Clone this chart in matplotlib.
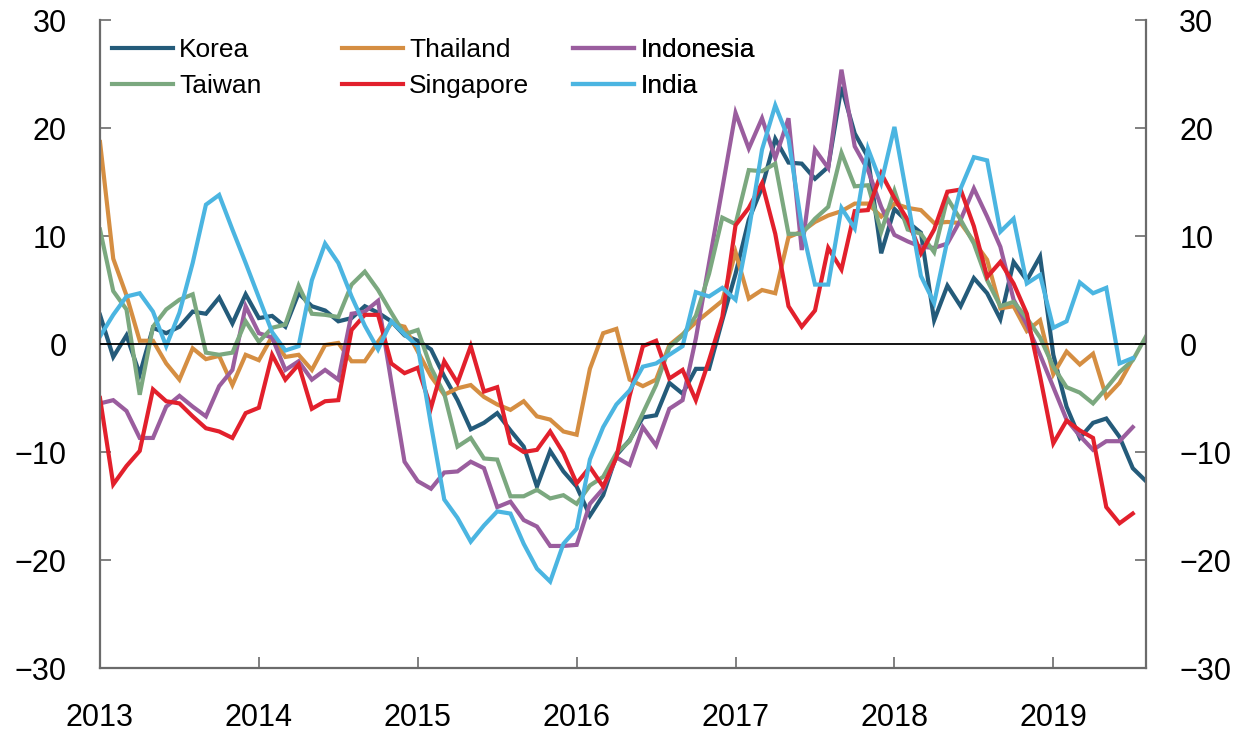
import matplotlib
matplotlib.use("Agg")
import matplotlib.pyplot as plt
import numpy as np

plt.rcParams['font.family'] = ['Liberation Sans', 'DejaVu Sans']

# Monthly data, Jan 2013 onwards
korea = [2.7, -1.2, 0.8, -2.8, 1.5, 1.0, 1.6, 3.0, 2.8, 4.3, 1.9, 4.6,
         2.4, 2.6, 1.6, 4.7, 3.5, 3.1, 2.1, 2.4, 3.5, 2.9, 2.1, 0.8,
         0.3, -0.5, -3.0, -5.2, -7.9, -7.3, -6.4, -8.0, -9.5, -13.2, -9.9, -11.8,
         -13.2, -15.9, -14.0, -10.3, -8.9, -6.8, -6.6, -3.6, -4.6, -2.3, -2.3, 2.2,
         6.5, 11.5, 14.5, 19.0, 16.8, 16.7, 15.3, 16.4, 23.8, 19.5, 17.3, 8.4,
         12.5, 11.3, 10.3, 2.2, 5.4, 3.5, 6.1, 4.7, 2.3, 7.6, 5.9, 8.1,
         -1.0, -5.8, -8.7, -7.3, -6.9, -8.6, -11.5, -12.7]
taiwan = [10.6, 4.9, 3.2, -4.7, 1.6, 3.2, 4.1, 4.6, -0.8, -1.0, -0.8, 2.1,
          0.2, 1.5, 1.8, 5.4, 2.8, 2.7, 2.5, 5.5, 6.7, 5.0, 2.9, 0.9,
          1.3, -2.2, -4.6, -9.5, -8.7, -10.6, -10.7, -14.1, -14.1, -13.5, -14.3, -14.0,
          -14.8, -13.1, -12.3, -10.1, -9.0, -6.4, -3.8, -0.3, 0.8, 2.6, 6.5, 11.7,
          11.1, 16.1, 16.0, 16.7, 10.2, 10.2, 11.6, 12.7, 17.7, 14.6, 14.7, 10.4,
          14.2, 10.6, 10.2, 8.5, 13.5, 11.5, 9.3, 5.9, 3.5, 3.9, 2.4, 0.6,
          -2.1, -4.0, -4.5, -5.5, -4.1, -2.6, -1.5, 0.7]
thailand = [18.7, 7.9, 4.5, 0.3, 0.3, -1.8, -3.3, -0.4, -1.4, -1.1, -3.8, -1.0,
            -1.5, 0.7, -1.2, -1.0, -2.4, -0.1, 0.1, -1.6, -1.6, 0.2, 1.9, 1.6,
            -0.7, -3.0, -4.7, -4.1, -3.8, -4.9, -5.6, -6.1, -5.3, -6.7, -7.0, -8.1,
            -8.4, -2.3, 1.0, 1.4, -3.3, -3.9, -3.3, -0.1, 0.9, 2.0, 3.0, 4.0,
            8.5, 4.2, 5.0, 4.7, 9.9, 10.4, 11.3, 11.9, 12.3, 13.0, 13.0, 11.8,
            13.0, 12.6, 12.4, 11.2, 11.3, 11.2, 9.5, 7.8, 3.3, 3.5, 1.2, 2.2,
            -2.8, -0.7, -1.9, -0.9, -4.9, -3.6, -1.4]
singapore = [-5.0, -13.0, -11.3, -9.9, -4.2, -5.3, -5.5, -6.7, -7.8, -8.1, -8.7, -6.4,
             -5.9, -1.0, -3.3, -1.9, -6.0, -5.3, -5.2, 1.3, 2.7, 2.7, -1.8, -2.7,
             -2.2, -5.9, -1.6, -3.6, -0.2, -4.4, -4.0, -9.2, -10.0, -9.8, -8.1, -10.1,
             -12.9, -11.4, -13.2, -10.5, -4.8, -0.2, 0.3, -3.2, -2.4, -5.2, -1.5, 2.5,
             11.0, 12.6, 14.9, 10.2, 3.5, 1.6, 3.1, 8.9, 6.9, 12.3, 12.4, 15.8,
             13.5, 11.5, 8.4, 10.6, 14.1, 14.3, 10.9, 6.2, 7.6, 5.6, 2.8, -3.0,
             -9.2, -7.1, -8.0, -8.7, -15.1, -16.6, -15.7]
indonesia = [-5.5, -5.2, -6.2, -8.7, -8.7, -5.8, -4.8, -5.8, -6.7, -3.9, -2.4, 3.5,
             1.0, 0.6, -2.4, -1.6, -3.3, -2.4, -3.3, 2.8, 3.0, 4.0, -3.5, -10.9,
             -12.7, -13.4, -11.9, -11.8, -10.9, -11.5, -15.1, -14.6, -16.3, -16.9, -18.7, -18.7,
             -18.6, -14.8, -13.4, -10.5, -11.2, -7.7, -9.4, -6.0, -5.2, 0.5, 7.5, 14.4,
             21.4, 18.1, 20.9, 17.2, 20.9, 8.7, 18.0, 16.3, 25.4, 18.3, 16.1, 12.7,
             10.1, 9.5, 9.0, 8.9, 9.3, 11.5, 14.4, 11.8, 9.0, 4.1, 1.8, -1.0,
             -4.0, -7.0, -8.5, -9.8, -9.0, -9.0, -7.7]
india = [0.7, 2.7, 4.4, 4.7, 3.0, -0.2, 2.9, 7.5, 12.9, 13.8, 10.6, 7.5,
         4.3, 1.1, -0.6, -0.2, 5.9, 9.3, 7.5, 4.4, 1.7, -0.5, 2.1, 0.9,
         -0.2, -7.5, -14.4, -16.1, -18.3, -16.8, -15.5, -15.7, -18.5, -20.8, -22.0, -18.5,
         -17.1, -10.7, -7.7, -5.6, -4.3, -2.1, -1.8, -1.0, -0.2, 4.8, 4.4, 5.2,
         4.1, 10.5, 18.0, 22.1, 19.0, 10.9, 5.5, 5.5, 12.6, 10.7, 18.1, 14.9,
         20.1, 13.3, 6.3, 3.8, 9.6, 14.4, 17.3, 17.0, 10.4, 11.6, 5.6, 6.4,
         1.5, 2.1, 5.7, 4.7, 5.2, -1.8, -1.3]

series = [
    ("Korea", korea, "#245b7a"),
    ("Thailand", thailand, "#d58e42"),
    ("Indonesia", indonesia, "#9a5d9e"),
    ("Taiwan", taiwan, "#7ba87f"),
    ("Singapore", singapore, "#e2202c"),
    ("India", india, "#4bb5e1"),
]
year_ticks = [2013, 2014, 2015, 2016, 2017, 2018, 2019]
n_months = len(korea)

W, H = 1235, 732
fig = plt.figure(figsize=(W / 100, H / 100), dpi=100)
ax = fig.add_axes([100 / W, (H - 668) / H, (1146 - 100) / W, (668 - 20) / H])

lines = {}
for name, vals, col in series:
    x = 2013 + np.arange(len(vals)) / 12.0
    ln, = ax.plot(x, vals, color=col, lw=3.0, solid_joinstyle='miter', label=name)
    lines[name] = ln

ax.axhline(0, color='black', lw=1.3, zorder=5)

ax.set_xlim(2013, 2013 + (n_months - 1) / 12.0)
ax.set_ylim(-30, 30)
ax.set_yticks(np.arange(-30, 31, 10))
ax.set_xticks(year_ticks)
ax.set_xticklabels([str(y) for y in year_ticks])

for s in ['left', 'right', 'bottom']:
    ax.spines[s].set_color('#6b6b6b')
    ax.spines[s].set_linewidth(1.6)
ax.spines['top'].set_visible(False)

ax.tick_params(axis='y', direction='in', length=8, width=1.2, color='#6b6b6b',
               labelsize=22, pad=24, left=True, right=True, labelleft=True, labelright=True)
ax.tick_params(axis='x', direction='in', length=8, width=1.2, color='#6b6b6b',
               labelsize=22, pad=25)

# legends: three columns of two entries
cols = [("Korea", "Taiwan", 112), ("Thailand", "Singapore", 342), ("Indonesia", "India", 573)]
for a, b, px in cols:
    leg = ax.legend([lines[a], lines[b]], [a, b], loc='upper left',
                    bbox_to_anchor=((px - 100) / 1046, (668 - 38) / 648),
                    frameon=False, fontsize=19, handlelength=2.3, handletextpad=0.25,
                    labelspacing=0.45, borderpad=0, borderaxespad=0)
    ax.add_artist(leg)

fig.savefig("out.png", dpi=100)
